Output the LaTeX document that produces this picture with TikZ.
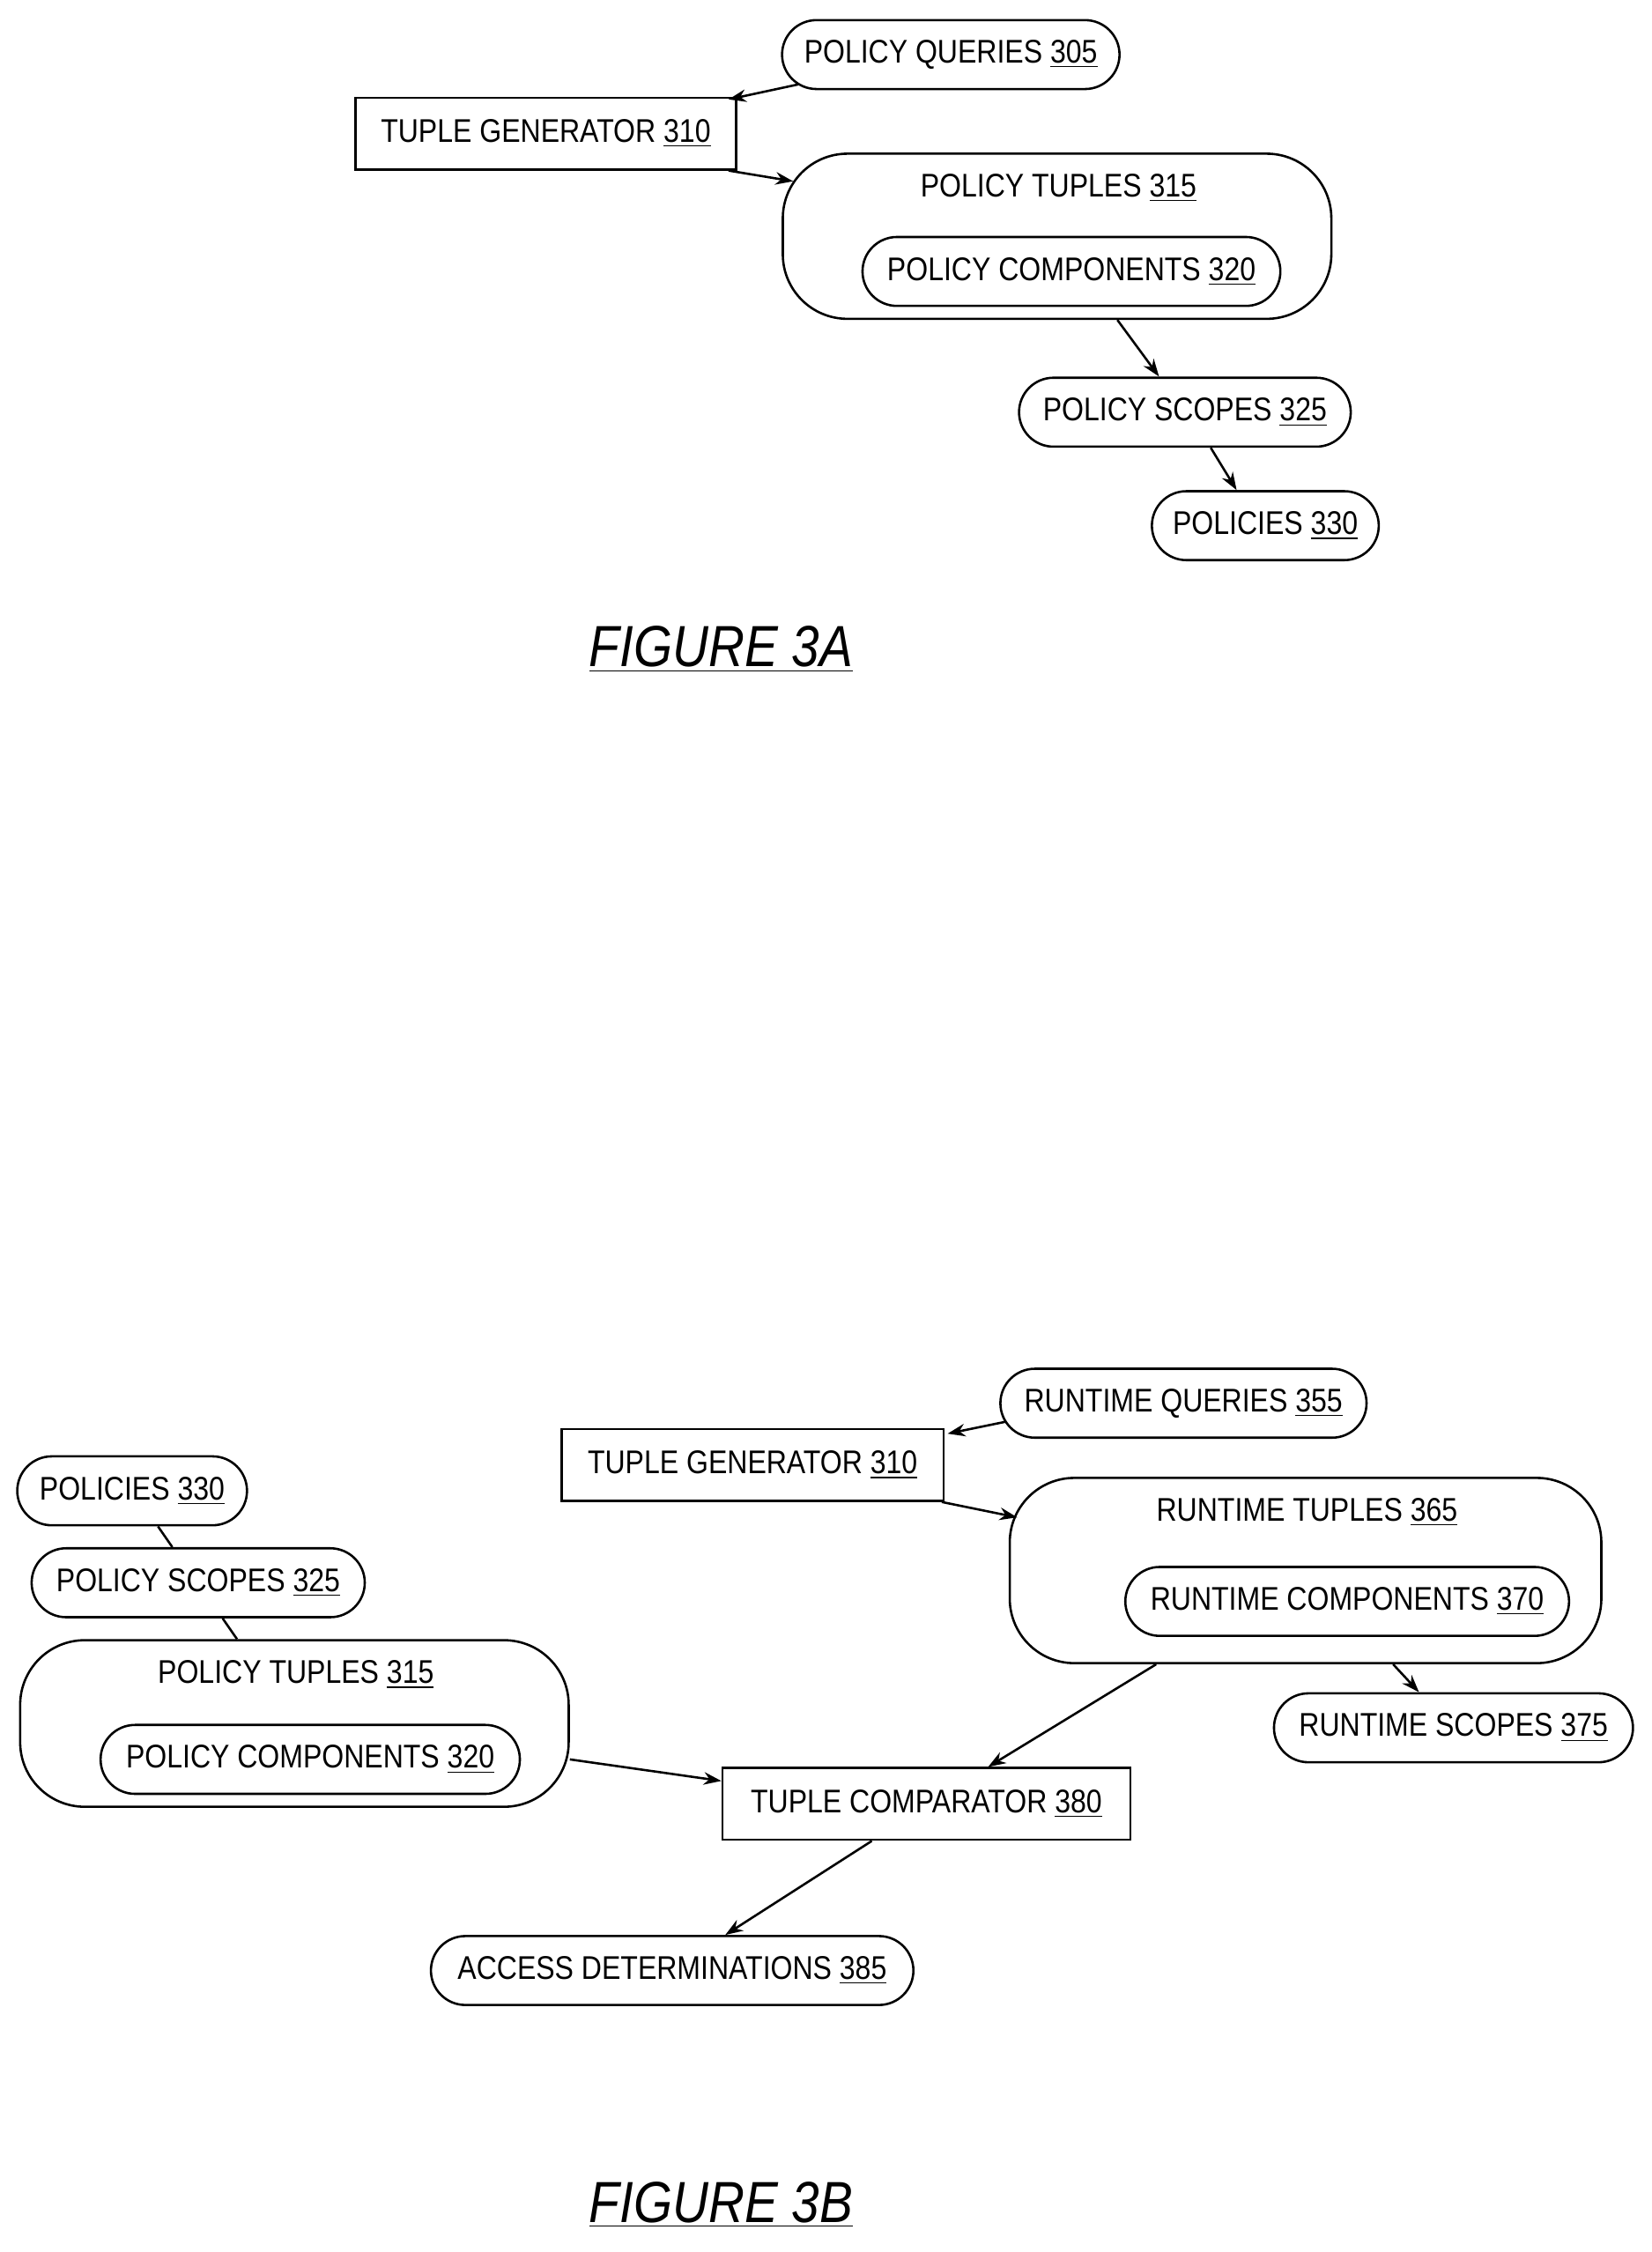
\documentclass[tikz,border=0pt]{standalone}
\usepackage{fontspec}
\setmainfont{Liberation Sans}[FakeStretch=0.86]
\usetikzlibrary{arrows.meta,calc}
\begin{document}
\begin{tikzpicture}[x=0.02cm,y=-0.02cm,
 every node/.style={font=\fontsize{13}{15}\selectfont,inner sep=0pt},
 pill/.style={draw,line width=0.9pt,rounded corners=0.48cm,minimum height=0.96cm},
 box/.style={draw,line width=0.9pt,minimum height=1cm},
 big/.style={draw,line width=0.9pt,rounded corners=0.9cm},
 arr/.style={line width=0.9pt,-{Stealth[length=7pt,width=5pt]}},
 ln/.style={line width=0.9pt},
 fig/.style={font=\fontsize{23}{28}\selectfont\itshape}]
\useasboundingbox (0,0) rectangle (1150,1568);
% Figure 3A
\node[pill,minimum width=4.7cm] (pq) at (662,38) {POLICY QUERIES \underline{305}};
\node[box,minimum width=5.3cm] (tg) at (380,93) {TUPLE GENERATOR \underline{310}};
\node[big,minimum width=7.64cm,minimum height=2.3cm] (pt) at (736,164.5) {};
\node (ptl) at (737,131) {POLICY TUPLES \underline{315}};
\node[pill,minimum width=5.82cm] (pc) at (746,189) {POLICY COMPONENTS \underline{320}};
\node[pill,minimum width=4.62cm] (ps) at (825,287) {POLICY SCOPES \underline{325}};
\node[pill,minimum width=3.16cm] (po) at (881,366) {POLICIES \underline{330}};
\node[fig] (f3a) at (502,452) {\underline{FIGURE 3A}};
\draw[arr] ($(pq.south west)+(12,-4)$) -- ($(tg.north east)+(-6,2)$);
\draw[arr] ($(tg.south east)+(-6,0)$) -- ($(pt.north west)+(8,20)$);
\draw[arr] ($(pt.south)+(42,0)$) -- ($(ps.north)+(-18,0)$);
\draw[arr] ($(ps.south)+(18,0)$) -- ($(po.north)+(-20,0)$);
% Figure 3B
\node[pill,minimum width=5.1cm] (rq) at (824,977) {RUNTIME QUERIES \underline{355}};
\node[box,minimum width=5.32cm] (tg2) at (524,1020) {TUPLE GENERATOR \underline{310}};
\node[big,minimum width=8.24cm,minimum height=2.58cm] (rt) at (909,1093.5) {};
\node (rtl) at (910,1053) {RUNTIME TUPLES \underline{365}};
\node[pill,minimum width=6.18cm] (rc) at (938,1115) {RUNTIME COMPONENTS \underline{370}};
\node[pill,minimum width=5cm] (rs) at (1012,1203) {RUNTIME SCOPES \underline{375}};
\node[pill,minimum width=3.2cm] (po2) at (92,1038) {POLICIES \underline{330}};
\node[pill,minimum width=4.64cm] (ps2) at (138,1102) {POLICY SCOPES \underline{325}};
\node[big,minimum width=7.64cm,minimum height=2.32cm] (pt2) at (205,1200) {};
\node (pt2l) at (206,1166) {POLICY TUPLES \underline{315}};
\node[pill,minimum width=5.84cm] (pc2) at (216,1225) {POLICY COMPONENTS \underline{320}};
\node[box,minimum width=5.68cm] (tc) at (645,1256) {TUPLE COMPARATOR \underline{380}};
\node[pill,minimum width=6.72cm] (ad) at (468,1372) {ACCESS DETERMINATIONS \underline{385}};
\node[fig] (f3b) at (502,1535) {\underline{FIGURE 3B}};
\draw[arr] ($(rq.west)+(4,13)$) -- ($(tg2.north east)+(2,4)$);
\draw[arr] ($(tg2.south east)+(-2,0)$) -- ($(rt.west)+(6,-37)$);
\draw[arr] ($(rt.south)+(61,0)$) -- ($(rs.north)+(-24,0)$);
\draw[ln] ($(po2.south)+(18,0)$) -- ($(ps2.north)+(-18,0)$);
\draw[ln] ($(ps2.south)+(17,0)$) -- ($(pt2.north)+(-40,0)$);
\draw[arr] ($(pt2.east)+(0,25)$) -- ($(tc.west)+(0,-16)$);
\draw[arr] ($(rt.south)+(-104,0)$) -- ($(tc.north)+(43,0)$);
\draw[arr] ($(tc.south)+(-38,0)$) -- ($(ad.north)+(37,0)$);
\end{tikzpicture}
\end{document}
